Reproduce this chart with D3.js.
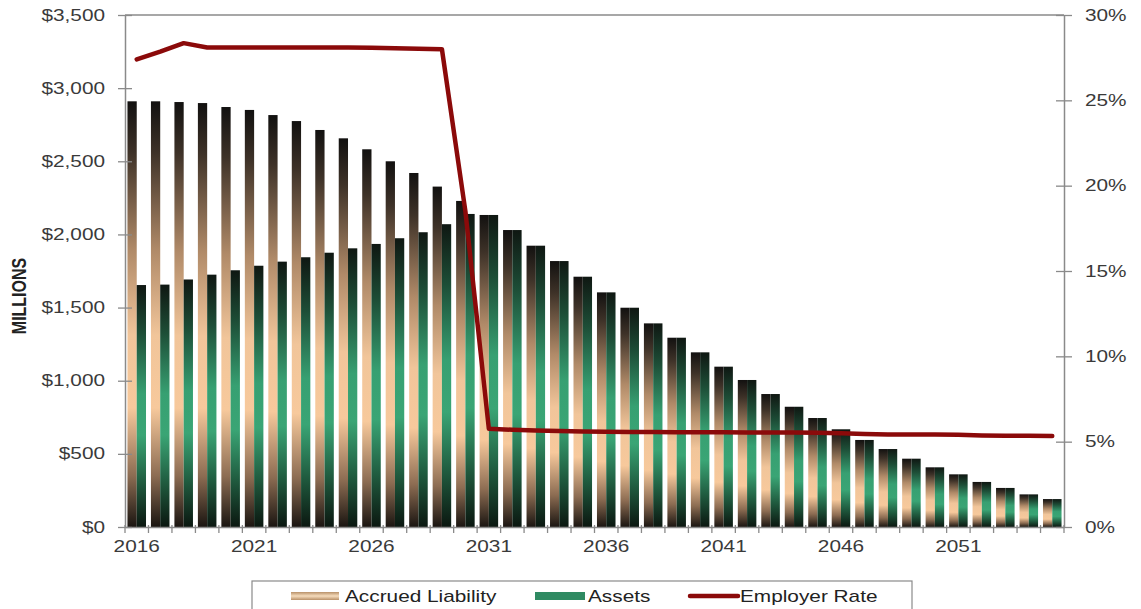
<!DOCTYPE html>
<html>
<head>
<meta charset="utf-8">
<script src="https://cdn.jsdelivr.net/npm/d3@7"></script>
<style>
  body { margin: 0; background: #fff; }
  text { font-family: "Liberation Sans", Arial, sans-serif; }
</style>
</head>
<body>
<div id="chart"></div>
<script>
let years = d3.range(2016, 2056);
let labelYears = [2016, 2021, 2026, 2031, 2036, 2041, 2046, 2051];

// $ millions
let liability = [2910, 2910, 2905, 2898, 2871, 2851, 2816, 2775, 2714, 2657,
    2582, 2500, 2420, 2327, 2229, 2133, 2030, 1923, 1818, 1711,
    1604, 1499, 1392, 1294, 1194, 1096, 1005, 909, 822, 745,
    668, 595, 533, 467, 408, 360, 308, 267, 223, 191];
let assets = [1654, 1657, 1692, 1725, 1755, 1786, 1814, 1844, 1875, 1905,
    1935, 1974, 2015, 2070, 2140, 2133, 2030, 1923, 1818, 1711,
    1604, 1499, 1392, 1294, 1194, 1096, 1005, 909, 822, 745,
    668, 595, 533, 467, 408, 360, 308, 267, 223, 191];
// employer contribution rate, %
let employerRate = [27.4, 27.85, 28.35, 28.1, 28.1, 28.1, 28.1, 28.1, 28.1, 28.1,
    28.08, 28.05, 28.02, 28.0, 18.5, 5.75, 5.7, 5.65, 5.62, 5.6,
    5.58, 5.57, 5.56, 5.55, 5.55, 5.55, 5.54, 5.54, 5.53, 5.52,
    5.5, 5.45, 5.42, 5.42, 5.42, 5.4, 5.36, 5.34, 5.34, 5.33];

let dollarTicks = [0, 500, 1000, 1500, 2000, 2500, 3000, 3500];
let pctTicks = [0, 5, 10, 15, 20, 25, 30];

function main(){
    let width = 1141, height = 609;
    let left = 125, right = 1064, top = 15, bottom = 527;
    let stretch = 1.3;   // text in the picture is drawn wide

    let svg = d3.select("#chart").append("svg")
        .attr("width", width)
        .attr("height", height);

    let defs = svg.append("defs");
    function gradient(id, stops){
        let g = defs.append("linearGradient").attr("id", id)
            .attr("x1", 0).attr("y1", 0).attr("x2", 0).attr("y2", 1);
        stops.forEach(s => g.append("stop").attr("offset", s[0]).attr("stop-color", s[1]));
    }
    gradient("tan", [[0, "#121110"], [0.12, "#3e3228"], [0.35, "#b08a68"],
        [0.55, "#f1c59a"], [0.72, "#f7c99c"], [0.88, "#8c6c52"], [1, "#1a1511"]]);
    gradient("green", [[0, "#0f1712"], [0.2, "#1d4e37"], [0.45, "#37a072"],
        [0.62, "#3aa575"], [0.82, "#1f5a3e"], [1, "#0b1710"]]);
    gradient("tanSwatch", [[0, "#b89068"], [0.5, "#f6dcbc"], [1, "#b89068"]]);

    let xScale = d3.scaleBand().domain(years).range([left, right])
        .paddingInner(0.21).paddingOuter(0.105);
    let yScale = d3.scaleLinear().domain([0, 3500]).range([bottom, top]);
    let rScale = d3.scaleLinear().domain([0, 30]).range([bottom, top]);
    let bw = xScale.bandwidth() / 2;
    let step = xScale.step();

    let data = years.map((y, i) => ({year: y, liab: liability[i], assets: assets[i], rate: employerRate[i]}));

    // bars
    svg.append("g").selectAll("rect")
        .data(data)
        .enter()
        .append("rect")
        .attr("x", d => xScale(d.year))
        .attr("y", d => yScale(d.liab))
        .attr("width", bw)
        .attr("height", d => yScale(0) - yScale(d.liab))
        .attr("fill", "url(#tan)");

    svg.append("g").selectAll("rect")
        .data(data)
        .enter()
        .append("rect")
        .attr("x", d => xScale(d.year) + bw)
        .attr("y", d => yScale(d.assets))
        .attr("width", bw)
        .attr("height", d => yScale(0) - yScale(d.assets))
        .attr("fill", "url(#green)");

    // top frame line
    svg.append("line")
        .attr("x1", left).attr("x2", right)
        .attr("y1", top).attr("y2", top)
        .attr("stroke", "#8a8a8a").attr("stroke-width", 1.5);

    // left axis
    let yAxis = svg.append("g")
        .attr("transform", "translate(" + left + ",0)")
        .call(d3.axisLeft(yScale).tickValues(dollarTicks).tickFormat(d3.format("$,")).tickSizeOuter(0));
    yAxis.selectAll(".tick line").attr("x1", 7).attr("x2", -7);
    yAxis.selectAll("text")
        .attr("x", -20 / stretch)
        .attr("transform", "scale(" + stretch + ",1)")
        .attr("font-size", 16)
        .attr("fill", "#3a3a3a");

    // right axis
    let rAxis = svg.append("g")
        .attr("transform", "translate(" + right + ",0)")
        .call(d3.axisRight(rScale).tickValues(pctTicks).tickFormat(d => d + "%").tickSizeOuter(0));
    rAxis.selectAll(".tick line").attr("x1", -8).attr("x2", 8);
    rAxis.selectAll("text")
        .attr("x", 21 / stretch)
        .attr("transform", "scale(" + stretch + ",1)")
        .attr("font-size", 16)
        .attr("fill", "#3a3a3a");

    // bottom axis: labels every 5 years, ticks at every category boundary
    let xAxis = svg.append("g")
        .attr("transform", "translate(0," + bottom + ")")
        .call(d3.axisBottom(xScale).tickValues(labelYears).tickSize(0).tickPadding(14));
    xAxis.selectAll("text")
        .attr("transform", "scale(" + stretch + ",1)")
        .attr("font-size", 16)
        .attr("fill", "#3a3a3a");
    xAxis.append("g").selectAll("line")
        .data(years.concat([years[years.length - 1] + 1]))
        .enter()
        .append("line")
        .attr("x1", (d, i) => left + i * step)
        .attr("x2", (d, i) => left + i * step)
        .attr("y1", -2).attr("y2", 6)
        .attr("stroke", "#8a8a8a").attr("stroke-width", 1.3);

    svg.selectAll(".domain").attr("stroke", "#8a8a8a").attr("stroke-width", 1.5);
    svg.selectAll(".tick line").attr("stroke", "#8a8a8a").attr("stroke-width", 1.3);

    // y title
    svg.append("text")
        .attr("transform", "translate(26,296) scale(" + stretch + ",1) rotate(-90)")
        .attr("text-anchor", "middle")
        .attr("font-size", 16)
        .attr("font-weight", "bold")
        .attr("fill", "#222")
        .text("MILLIONS");

    // employer rate line
    let line = d3.line()
        .x(d => xScale(d.year) + xScale.bandwidth() / 2)
        .y(d => rScale(d.rate));
    svg.append("path")
        .attr("d", line(data))
        .attr("fill", "none")
        .attr("stroke", "#8b0a0a")
        .attr("stroke-width", 4.5)
        .attr("stroke-linejoin", "round")
        .attr("stroke-linecap", "round");

    // legend
    let lg = svg.append("g");
    lg.append("rect")
        .attr("x", 252).attr("y", 581)
        .attr("width", 660).attr("height", 40)
        .attr("fill", "#fff")
        .attr("stroke", "#8a8a8a").attr("stroke-width", 1.2);
    lg.append("rect")
        .attr("x", 291).attr("y", 592).attr("width", 48).attr("height", 8)
        .attr("fill", "url(#tanSwatch)");
    lg.append("rect")
        .attr("x", 535).attr("y", 592).attr("width", 50).attr("height", 8)
        .attr("fill", "#2f8a62");
    lg.append("line")
        .attr("x1", 690).attr("x2", 738).attr("y1", 596).attr("y2", 596)
        .attr("stroke", "#8b0a0a").attr("stroke-width", 4.5).attr("stroke-linecap", "round");
    let items = [["Accrued Liability", 345], ["Assets", 588], ["Employer Rate", 740]];
    lg.selectAll("text.item")
        .data(items)
        .enter()
        .append("text")
        .attr("class", "item")
        .attr("transform", d => "translate(" + d[1] + ",602) scale(" + stretch + ",1)")
        .attr("font-size", 16)
        .attr("fill", "#222")
        .text(d => d[0]);
}

main();
</script>
</body>
</html>
